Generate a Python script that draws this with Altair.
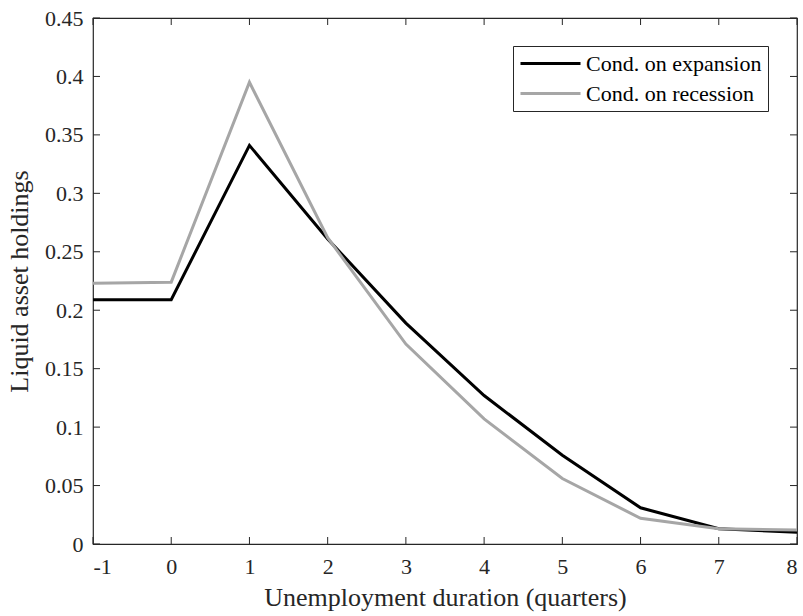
import altair as alt
import pandas as pd

# Liquid asset holdings by unemployment duration (quarters)
quarters = [-1, 0, 1, 2, 3, 4, 5, 6, 7, 8]
expansion = [0.209, 0.209, 0.341, 0.261, 0.189, 0.127, 0.076, 0.031, 0.013, 0.010]
recession = [0.223, 0.224, 0.395, 0.262, 0.171, 0.107, 0.056, 0.022, 0.013, 0.012]
series_names = ["Cond. on expansion", "Cond. on recession"]
series_colors = ["#000000", "#a6a6a6"]

x_ticks = [-1, 0, 1, 2, 3, 4, 5, 6, 7, 8]
y_ticks = [0, 0.05, 0.1, 0.15, 0.2, 0.25, 0.3, 0.35, 0.4, 0.45]

FONT = "Liberation Serif"
AXIS_COLOR = "#262626"
TICK_LEN = 7

rows = []
for name, vals in zip(series_names, [expansion, recession]):
    for q, v in zip(quarters, vals):
        rows.append({"quarter": q, "value": v, "series": name})
df = pd.DataFrame(rows)

x_scale = alt.Scale(domain=[-1, 8], nice=False, zero=False)
y_scale = alt.Scale(domain=[0, 0.45], nice=False)

lines = alt.Chart(df).mark_line(strokeWidth=3, strokeJoin="miter").encode(
    x=alt.X("quarter:Q", scale=x_scale,
            axis=alt.Axis(title="Unemployment duration (quarters)", values=x_ticks,
                          labelExpr="'' + datum.value", grid=False, ticks=False,
                          domain=False, labelPadding=12, titlePadding=7)),
    y=alt.Y("value:Q", scale=y_scale,
            axis=alt.Axis(title="Liquid asset holdings", values=y_ticks,
                          format=".2~f", grid=False, ticks=False, domain=False,
                          labelPadding=10, titlePadding=12)),
    color=alt.Color("series:N",
                    scale=alt.Scale(domain=series_names, range=series_colors),
                    legend=alt.Legend(title=None, orient="none", legendX=420, legendY=28,
                                      symbolType="M-3,0H3", symbolSize=400,
                                      symbolStrokeWidth=3, symbolOffset=20,
                                      strokeColor=AXIS_COLOR, fillColor="white",
                                      padding=6, rowPadding=7, labelLimit=400,
                                      labelFont=FONT, labelFontSize=22,
                                      labelColor="#000000", labelOffset=24)),
    order=alt.Order("quarter:Q"),
)

# Inward-pointing tick marks on all four sides of the box
xt = pd.DataFrame({"t": x_ticks})
yt = pd.DataFrame({"t": y_ticks})
tick_style = dict(color=AXIS_COLOR, strokeWidth=1)

bottom_ticks = alt.Chart(xt).mark_rule(**tick_style).encode(
    x=alt.X("t:Q", scale=x_scale),
    y=alt.value({"expr": "height"}), y2=alt.value({"expr": f"height - {TICK_LEN}"}))
top_ticks = alt.Chart(xt).mark_rule(**tick_style).encode(
    x=alt.X("t:Q", scale=x_scale),
    y=alt.value(0), y2=alt.value(TICK_LEN))
left_ticks = alt.Chart(yt).mark_rule(**tick_style).encode(
    y=alt.Y("t:Q", scale=y_scale),
    x=alt.value(0), x2=alt.value(TICK_LEN))
right_ticks = alt.Chart(yt).mark_rule(**tick_style).encode(
    y=alt.Y("t:Q", scale=y_scale),
    x=alt.value({"expr": "width"}), x2=alt.value({"expr": f"width - {TICK_LEN}"}))

chart = alt.layer(
    bottom_ticks, top_ticks, left_ticks, right_ticks, lines
).properties(
    width=704, height=526,
    autosize=alt.AutoSizeParams(type="none"),
    padding={"left": 93, "top": 18, "right": 6, "bottom": 72},
    background="white",
).configure_view(
    stroke=AXIS_COLOR, strokeWidth=1.2
).configure_axis(
    labelFont=FONT, labelFontSize=22, labelColor=AXIS_COLOR,
    titleFont=FONT, titleFontSize=26, titleColor=AXIS_COLOR, titleFontWeight="normal",
)

chart.save("out.html", embed_options={"renderer": "svg", "actions": False})
